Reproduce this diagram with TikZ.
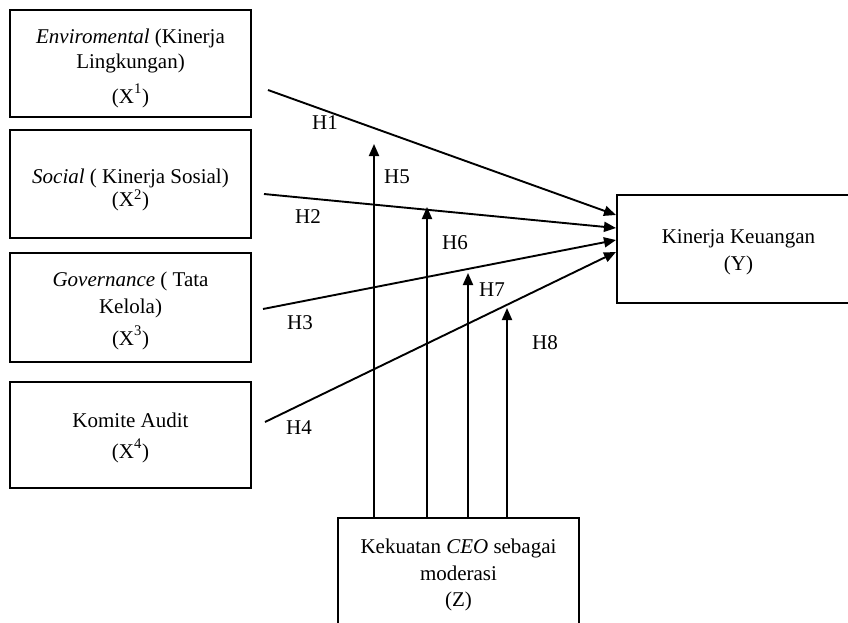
\documentclass[tikz,border=0pt]{standalone}
\usepackage{fontspec}
\setmainfont{Liberation Serif}
\usetikzlibrary{arrows.meta}
\newcommand{\topstrut}[1]{\rule{0pt}{#1}}
\newcommand{\hisup}[1]{\textsuperscript{\raisebox{2.5pt}{#1}}}
\begin{document}
\begin{tikzpicture}[x=1pt,y=-1pt,
  box/.style={draw, line width=2pt, rectangle, align=center, inner sep=0pt,
    font=\fontsize{21}{26}\selectfont},
  conn/.style={line width=1.9pt, -{Triangle[length=12pt,width=10pt]}},
  hlab/.style={font=\fontsize{21}{26}\selectfont, inner sep=0pt}]
\useasboundingbox (0,0) rectangle (848,622);
\clip (0,0) rectangle (848,622);
% boxes
\node[box, minimum width=241pt, minimum height=107pt] (x1) at (130.5,63.5)
  {\topstrut{24pt}\textit{Enviromental} (Kinerja\\[-1pt] Lingkungan)\\[9pt] (X\hisup{1})};
\node[box, minimum width=241pt, minimum height=108pt] (x2) at (130.5,184)
  {\topstrut{27pt}\textit{Social} ( Kinerja Sosial)\\[-3pt] (X\textsuperscript{2})};
\node[box, minimum width=241pt, minimum height=109pt] (x3) at (130.5,307.5)
  {\topstrut{22pt}\textit{Governance} ( Tata\\[1pt] Kelola)\\[6pt] (X\hisup{3})};
\node[box, minimum width=241pt, minimum height=106pt] (x4) at (130.5,435)
  {\topstrut{20pt}Komite Audit\\[5pt] (X\hisup{4})};
\node[box, minimum width=243pt, minimum height=108pt] (y) at (738.5,249)
  {\topstrut{21pt}Kinerja Keuangan\\[1pt] (Y)};
\node[box, minimum width=241pt, minimum height=110pt] (z) at (458.5,573)
  {\topstrut{18pt}Kekuatan \textit{CEO} sebagai\\[1pt] moderasi\\ (Z)};
% start and end points
\coordinate (s1) at (268,90);
\coordinate (s2) at (264,194);
\coordinate (s3) at (263,309);
\coordinate (s4) at (265,422);
\coordinate (e1) at (y.west |- 0,215);
\coordinate (e2) at (y.west |- 0,228);
\coordinate (e3) at (y.west |- 0,240);
\coordinate (e4) at (y.west |- 0,252);
\coordinate (t5) at (374,144);
\coordinate (t6) at (427,207);
\coordinate (t7) at (468,273);
\coordinate (t8) at (507,308);
% connectors
\draw[conn] (s1) -- (e1);
\draw[conn] (s2) -- (e2);
\draw[conn] (s3) -- (e3);
\draw[conn] (s4) -- (e4);
\draw[conn] (z.north -| t5) -- (t5);
\draw[conn] (z.north -| t6) -- (t6);
\draw[conn] (z.north -| t7) -- (t7);
\draw[conn] (z.north -| t8) -- (t8);
% labels
\node[hlab] (h1) at (325,123) {H1};
\node[hlab] (h2) at (308,217) {H2};
\node[hlab] (h3) at (300,323) {H3};
\node[hlab] (h4) at (299,428) {H4};
\node[hlab] (h5) at (397,177) {H5};
\node[hlab] (h6) at (455,243) {H6};
\node[hlab] (h7) at (492,290) {H7};
\node[hlab] (h8) at (545,343) {H8};
\end{tikzpicture}
\end{document}
